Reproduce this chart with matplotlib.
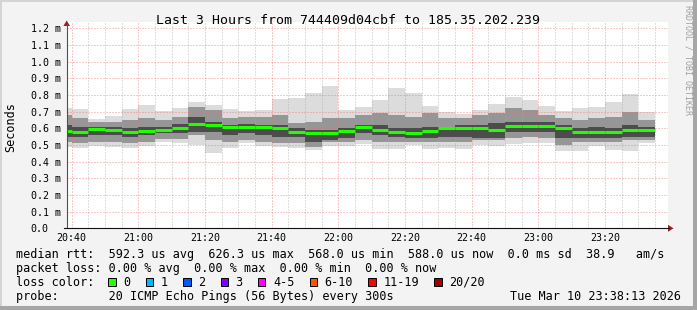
import numpy as np
import pandas as pd
import matplotlib
matplotlib.use("Agg")
import matplotlib.pyplot as plt
import matplotlib.dates as mdates
from matplotlib.patches import Rectangle, Polygon
from matplotlib.lines import Line2D

W, H = 697, 310
MONO = "DejaVu Sans Mono"

# 5 minute steps, every value covers the 5 minutes before its timestamp
step_end = pd.date_range("2026-03-10 20:40", periods=36, freq="5min")

# round trip times in ms
ping_max = [0.723, 0.716, 0.656, 0.674, 0.716, 0.742, 0.706, 0.724, 0.760, 0.742,
            0.716, 0.704, 0.710, 0.776, 0.784, 0.812, 0.856, 0.710, 0.730, 0.770,
            0.842, 0.812, 0.734, 0.696, 0.686, 0.710, 0.746, 0.790, 0.770, 0.734,
            0.704, 0.722, 0.728, 0.758, 0.806, 0.698]
upper_light = [0.680, 0.660, 0.635, 0.640, 0.650, 0.660, 0.650, 0.668, 0.730, 0.710,
               0.660, 0.670, 0.665, 0.680, 0.630, 0.640, 0.660, 0.660, 0.680, 0.690,
               0.680, 0.670, 0.690, 0.660, 0.660, 0.680, 0.690, 0.720, 0.710, 0.680,
               0.660, 0.650, 0.660, 0.670, 0.700, 0.650]
upper_dark = [0.620, 0.610, 0.610, 0.606, 0.600, 0.605, 0.610, 0.625, 0.670, 0.640,
              0.620, 0.625, 0.620, 0.620, 0.600, 0.590, 0.590, 0.600, 0.620, 0.620,
              0.600, 0.600, 0.610, 0.610, 0.620, 0.620, 0.630, 0.640, 0.640, 0.640,
              0.620, 0.600, 0.610, 0.600, 0.620, 0.610]
median_rtt = [0.584, 0.580, 0.596, 0.590, 0.580, 0.584, 0.590, 0.604, 0.628, 0.622,
              0.606, 0.610, 0.606, 0.600, 0.580, 0.570, 0.574, 0.584, 0.610, 0.588,
              0.580, 0.574, 0.584, 0.600, 0.602, 0.602, 0.590, 0.614, 0.614, 0.614,
              0.602, 0.576, 0.580, 0.580, 0.588, 0.588]
lower_dark = [0.550, 0.550, 0.560, 0.560, 0.550, 0.560, 0.570, 0.570, 0.580, 0.580,
              0.560, 0.570, 0.560, 0.550, 0.550, 0.520, 0.530, 0.540, 0.570, 0.560,
              0.550, 0.540, 0.540, 0.550, 0.550, 0.540, 0.540, 0.580, 0.580, 0.580,
              0.540, 0.540, 0.540, 0.540, 0.550, 0.550]
lower_light = [0.520, 0.510, 0.520, 0.520, 0.510, 0.520, 0.535, 0.535, 0.560, 0.530,
               0.520, 0.530, 0.520, 0.510, 0.510, 0.490, 0.520, 0.520, 0.530, 0.520,
               0.520, 0.520, 0.520, 0.520, 0.520, 0.530, 0.530, 0.540, 0.550, 0.540,
               0.500, 0.520, 0.520, 0.520, 0.530, 0.530]
ping_min = [0.486, 0.482, 0.494, 0.490, 0.484, 0.496, 0.520, 0.514, 0.500, 0.454,
            0.484, 0.510, 0.494, 0.490, 0.480, 0.470, 0.494, 0.494, 0.505, 0.474,
            0.474, 0.500, 0.474, 0.480, 0.474, 0.500, 0.494, 0.504, 0.514, 0.514,
            0.466, 0.466, 0.496, 0.470, 0.466, 0.514]

y_ticks = [0.0, 0.1, 0.2, 0.3, 0.4, 0.5, 0.6, 0.7, 0.8, 0.9, 1.0, 1.1, 1.2]

loss_labels = ["0", "1", "2", "3", "4-5", "6-10", "11-19", "20/20"]
loss_colors = ["#26ff00", "#00b8ff", "#0059ff", "#7e00ff",
               "#ff00ff", "#ff5500", "#ff0000", "#a10000"]

title = "Last 3 Hours from 744409d04cbf to 185.35.202.239"
rtt_line = ("median rtt:  592.3 us avg  626.3 us max  568.0 us min  "
            "588.0 us now  0.0 ms sd  38.9   am/s")
loss_line = "packet loss: 0.00 % avg  0.00 % max  0.00 % min  0.00 % now"
probe_line = "probe:       20 ICMP Echo Pings (56 Bytes) every 300s"
stamp = "Tue Mar 10 23:38:13 2026"


def fx(x):
    return x / W


def fy(y):
    return 1 - y / H


fig = plt.figure(figsize=(W / 100, H / 100), dpi=100, facecolor="#f3f3f3")

# 3d-ish frame around the image
fig.patches.extend([
    Rectangle((0, fy(2)), 1, 2 / H, transform=fig.transFigure, color="#d4d4d4", lw=0),
    Rectangle((0, 0), 2 / W, 1, transform=fig.transFigure, color="#d4d4d4", lw=0),
    Rectangle((0, 0), 1, 4 / H, transform=fig.transFigure, color="#a6a6a6", lw=0),
    Rectangle((fx(693.3), 0), 3.7 / W, 1, transform=fig.transFigure, color="#a6a6a6", lw=0),
])

ax_l, ax_r, ax_t, ax_b = 66.7, 668.3, 22.0, 228.3
ax = fig.add_axes([fx(ax_l), fy(ax_b), fx(ax_r - ax_l), (ax_b - ax_t) / H])
ax.set_facecolor("white")
for s in ax.spines.values():
    s.set_visible(False)

# step edges
step = pd.Timedelta(minutes=5)
edges = mdates.date2num(list(step_end - step) + [step_end[-1]])
xs = np.repeat(edges, 2)[1:-1]


def stepped(v):
    return np.repeat(v, 2)


ax.fill_between(xs, stepped(ping_min), stepped(ping_max), color="#dcdcdc", lw=0, zorder=1)
ax.fill_between(xs, stepped(lower_light), stepped(upper_light), color="#969696", lw=0, zorder=2)
ax.fill_between(xs, stepped(lower_dark), stepped(upper_dark), color="#4c4c4c", lw=0, zorder=3)
ax.hlines(median_rtt, edges[:-1], edges[1:], colors="#22ff00", lw=2.2,
          capstyle="butt", zorder=4)

x0 = pd.Timestamp("2026-03-10 20:38:30")
ax.set_xlim(mdates.date2num(x0), mdates.date2num(x0 + pd.Timedelta(seconds=180 * 60 + 29)))
ax.set_ylim(0, (ax_b - ax_t) / 166.7)

ax.xaxis.set_major_locator(mdates.MinuteLocator(byminute=[0, 20, 40]))
ax.xaxis.set_minor_locator(mdates.MinuteLocator(byminute=range(0, 60, 5)))
ax.xaxis.set_major_formatter(mdates.DateFormatter("%H:%M"))
ax.set_yticks(y_ticks)
ax.set_yticklabels([f"{v:.1f} m" if v > 0 else "0.0" for v in y_ticks])
for lab in ax.get_yticklabels():
    lab.set_horizontalalignment("left")

ax.tick_params(axis="both", which="both", length=0)
ax.tick_params(axis="x", labelsize=7.2, pad=3.2)
ax.tick_params(axis="y", labelsize=7.2, pad=(ax_l - 30.7) / 1.389)
for lab in ax.get_xticklabels() + ax.get_yticklabels():
    lab.set_family(MONO)

ax.grid(which="major", axis="both", color="#f07070", alpha=0.75,
        ls=(0, (1, 2)), lw=0.72, zorder=5)
ax.grid(which="minor", axis="x", color="#a8a8a8", alpha=0.75,
        ls=(0, (1, 2)), lw=0.72, zorder=5)
ax.set_axisbelow(False)

# axes with arrow heads
fig.add_artist(Line2D([fx(ax_l), fx(ax_l)], [fy(ax_b), fy(24)], color="#505050", lw=0.8))
fig.add_artist(Line2D([fx(64), fx(669)], [fy(ax_b), fy(ax_b)], color="#111111", lw=0.8))
fig.add_artist(Polygon([(fx(63.4), fy(26)), (fx(70.0), fy(26)), (fx(ax_l), fy(20.5))],
                       closed=True, transform=fig.transFigure, color="#a11d1d", lw=0))
fig.add_artist(Polygon([(fx(668), fy(224.8)), (fx(668), fy(231.8)), (fx(673.5), fy(ax_b))],
                       closed=True, transform=fig.transFigure, color="#a11d1d", lw=0))

fig.text(0.5, fy(24), title, ha="center", va="baseline", family=MONO, size=9.5)
fig.text(fx(11), fy(127.5), "Seconds", rotation=90, ha="center", va="center",
         family=MONO, size=8.5)
fig.text(fx(688.3), fy(5), "RRDTOOL / TOBI OETIKER", rotation=270, ha="center",
         va="top", family=MONO, size=6, color="#a0a0a0")

# legend rows
char_w = 7.115
fig.text(fx(16), fy(257.7), rtt_line, va="baseline", family=MONO, size=8.5)
fig.text(fx(16), fy(271.7), loss_line, va="baseline", family=MONO, size=8.5)
fig.text(fx(16), fy(285.7), "loss color:", va="baseline", family=MONO, size=8.5)
fig.text(fx(16), fy(299.8), probe_line, va="baseline", family=MONO, size=8.5)
fig.text(fx(681), fy(299.8), stamp, ha="right", va="baseline", family=MONO, size=8.5)

cursor = 108.3
for lab, col in zip(loss_labels, loss_colors):
    fig.patches.append(Rectangle((fx(cursor), fy(286)), 7.4 / W, 8 / H,
                                 transform=fig.transFigure, facecolor=col,
                                 edgecolor="black", lw=0.7))
    fig.text(fx(cursor + 15), fy(285.7), lab, va="baseline", family=MONO, size=8.5)
    cursor += 37.4 + (len(lab) - 1) * char_w

fig.savefig("out.png", dpi=100, facecolor=fig.get_facecolor())
